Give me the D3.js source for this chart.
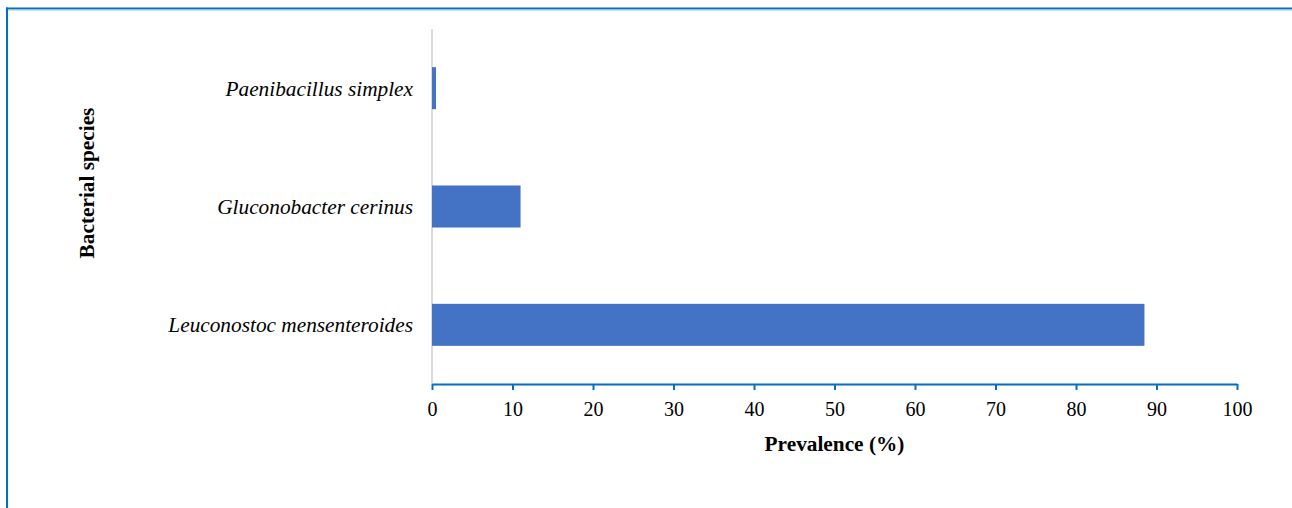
<!DOCTYPE html>
<html>
<head>
<meta charset="utf-8">
<script src="https://cdn.jsdelivr.net/npm/d3@7"></script>
<style>
  body { margin: 0; background: #fff; }
  text { font-family: "Liberation Serif", "Times New Roman", serif; fill: #000; }
</style>
</head>
<body>
<div id="chart"></div>
<script>
// categories, top to bottom
var species = ["Paenibacillus simplex", "Gluconobacter cerinus", "Leuconostoc mensenteroides"];
var prevalence = [0.5, 11, 88.5];
var xTicks = [0, 10, 20, 30, 40, 50, 60, 70, 80, 90, 100];

var W = 1292, H = 508;
var margin = {top: 29, right: 55, bottom: 124, left: 432};
var width = W - margin.left - margin.right;
var height = H - margin.top - margin.bottom;

var data = species.map(function (s, i) { return {name: s, value: prevalence[i]}; });

var root = d3.select("#chart")
    .append("svg")
    .attr("width", W)
    .attr("height", H);

// frame (top and left edges only)
root.append("line")
    .attr("x1", 6).attr("x2", W).attr("y1", 8.5).attr("y2", 8.5)
    .style("stroke", "#0070c0").style("stroke-width", 2);
root.append("line")
    .attr("x1", 6).attr("x2", W).attr("y1", 10).attr("y2", 10)
    .style("stroke", "#9dc3e6").style("stroke-width", 1);
root.append("line")
    .attr("x1", 7).attr("x2", 7).attr("y1", 7.5).attr("y2", H)
    .style("stroke", "#0070c0").style("stroke-width", 2);

var svg = root.append("g")
    .attr("transform", "translate(" + margin.left + "," + margin.top + ")");

var x = d3.scaleLinear()
    .domain([0, 100])
    .range([0, width]);

var y = d3.scaleBand()
    .domain(species)
    .range([0, height])
    .paddingInner(0.645)
    .paddingOuter(0.3225);

// vertical category axis line
svg.append("line")
    .attr("x1", 0).attr("x2", 0)
    .attr("y1", 0).attr("y2", height)
    .style("stroke", "#d9d9d9")
    .style("stroke-width", 2);

// bars
svg.append("g")
    .selectAll("rect")
    .data(data)
    .enter()
    .append("rect")
    .attr("x", x(0))
    .attr("y", function (d) { return y(d.name); })
    .attr("width", function (d) { return x(d.value) - x(0); })
    .attr("height", y.bandwidth())
    .style("fill", "#4472c4");

// x axis
var xAxis = svg.append("g")
    .attr("transform", "translate(0," + height + ")")
    .call(d3.axisBottom(x).tickValues(xTicks).tickSize(6).tickSizeOuter(0).tickPadding(12));
xAxis.select(".domain").style("stroke", "#0070c0").style("stroke-width", 2);
xAxis.selectAll(".tick line").style("stroke", "#0070c0").style("stroke-width", 2);
xAxis.selectAll(".tick text")
    .style("font-family", "Liberation Serif")
    .style("font-size", "20px");

// category labels
svg.append("g")
    .selectAll("text")
    .data(data)
    .enter()
    .append("text")
    .attr("x", -19)
    .attr("y", function (d) { return y(d.name) + y.bandwidth() / 2; })
    .attr("dy", "0.35em")
    .style("text-anchor", "end")
    .style("font-style", "italic")
    .style("font-size", "21.3px")
    .text(function (d) { return d.name; });

// axis titles
svg.append("text")
    .attr("x", width / 2)
    .attr("y", height + 67)
    .style("text-anchor", "middle")
    .style("font-weight", "bold")
    .style("font-size", "21.3px")
    .text("Prevalence (%)");

svg.append("text")
    .attr("transform", "rotate(-90)")
    .attr("x", -(183 - margin.top))
    .attr("y", 87 - margin.left)
    .attr("dy", "0.35em")
    .style("text-anchor", "middle")
    .style("font-weight", "bold")
    .style("font-size", "21.3px")
    .text("Bacterial species");
</script>
</body>
</html>
